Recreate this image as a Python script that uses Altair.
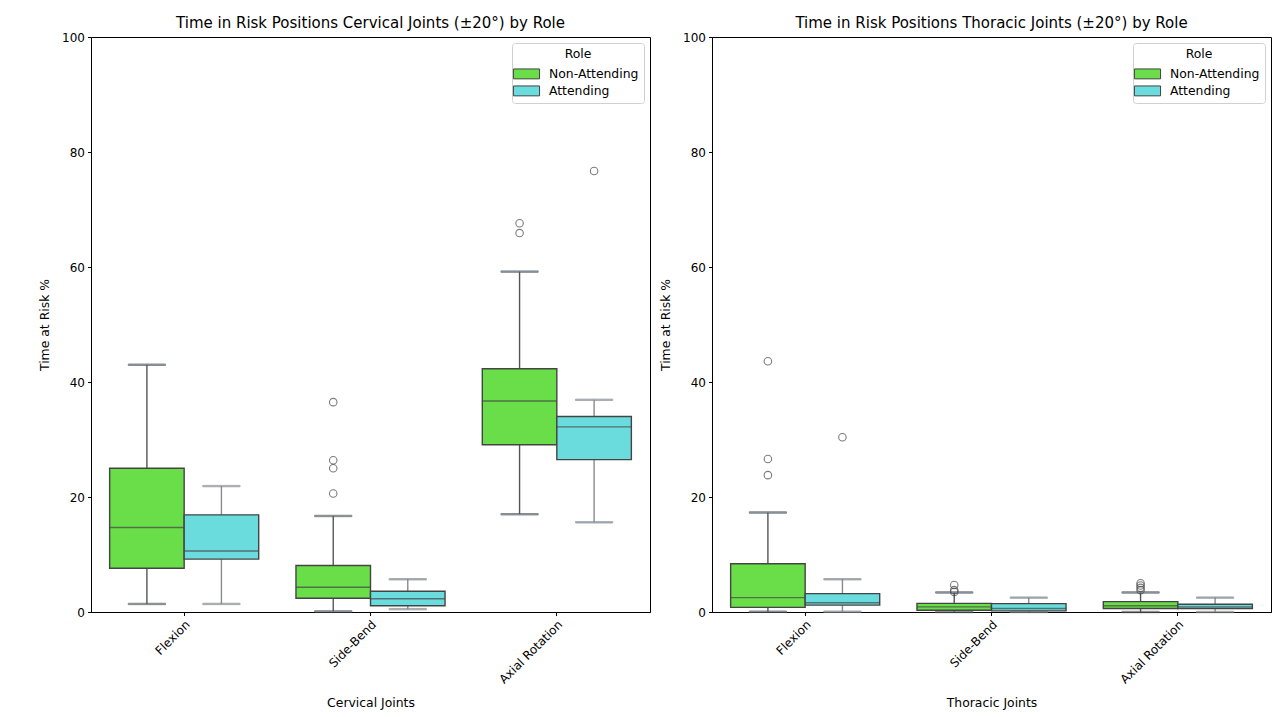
import altair as alt
import pandas as pd

joints = ["Flexion", "Side-Bend", "Axial Rotation"]
roles = ["Non-Attending", "Attending"]
fill_colors = ["#6ade48", "#6adcde"]
whisker_colors = ["#555555", "#8a8a8a"]

# Box statistics per joint, per role: [whisker_low, q1, median, q3, whisker_high]
cerv_non = [[1.4, 7.6, 14.7, 25.0, 43.0],
            [0.1, 2.4, 4.3, 8.1, 16.7],
            [17.0, 29.1, 36.7, 42.3, 59.2]]
cerv_att = [[1.4, 9.2, 10.6, 16.9, 21.9],
            [0.5, 1.1, 2.3, 3.6, 5.7],
            [15.6, 26.5, 32.2, 34.0, 36.9]]
thor_non = [[0.05, 0.8, 2.5, 8.4, 17.3],
            [0.0, 0.3, 0.9, 1.5, 3.4],
            [0.0, 0.6, 1.1, 1.8, 3.4]]
thor_att = [[0.05, 1.2, 1.6, 3.2, 5.7],
            [0.0, 0.2, 0.6, 1.45, 2.5],
            [0.0, 0.6, 0.9, 1.35, 2.5]]

# Outliers: (joint, role, value)
cerv_out_joint = ["Side-Bend", "Side-Bend", "Side-Bend", "Side-Bend",
                  "Axial Rotation", "Axial Rotation", "Axial Rotation"]
cerv_out_role = ["Non-Attending"] * 6 + ["Attending"]
cerv_out_val = [36.5, 26.4, 25.0, 20.6, 67.6, 65.9, 76.7]

thor_out_joint = ["Flexion", "Flexion", "Flexion", "Flexion",
                  "Side-Bend", "Side-Bend", "Side-Bend",
                  "Axial Rotation", "Axial Rotation", "Axial Rotation", "Axial Rotation"]
thor_out_role = ["Non-Attending", "Non-Attending", "Non-Attending", "Attending",
                 "Non-Attending", "Non-Attending", "Non-Attending",
                 "Non-Attending", "Non-Attending", "Non-Attending", "Non-Attending"]
thor_out_val = [43.6, 26.6, 23.8, 30.4,
                4.7, 3.8, 3.5,
                5.0, 4.6, 4.2, 3.8]

FONT = "DejaVu Sans"
W, H = 559, 575
BOX_W = W / 3 * 0.8 / 2


def stats_df(non, att):
    rows = []
    for role, table, lc in zip(roles, [non, att], whisker_colors):
        for j, s in zip(joints, table):
            rows.append(dict(Joint=j, Role=role, lc=lc, low=s[0], q1=s[1], med=s[2], q3=s[3], high=s[4]))
    return pd.DataFrame(rows)


def panel(non, att, oj, orole, oval, title, xtitle):
    df = stats_df(non, att)
    odf = pd.DataFrame(dict(Joint=oj, Role=orole, val=oval))
    x = alt.X("Joint:N", sort=joints, title=xtitle,
              scale=alt.Scale(paddingInner=0.2, paddingOuter=0.1),
              axis=alt.Axis(labelAngle=-45, labelAlign="right", labelBaseline="top",
                            ticks=True, tickSize=3.5, labelPadding=3, titlePadding=11))
    xo = alt.XOffset("Role:N", sort=roles, scale=alt.Scale(domain=roles, paddingInner=0, paddingOuter=0))
    yscale = alt.Scale(domain=[0, 100], nice=False)
    yaxis = alt.Axis(values=[0, 20, 40, 60, 80, 100], tickSize=3.5, labelPadding=3,
                     titlePadding=10, grid=False)
    stroke = alt.Stroke("lc:N", scale=None)
    base = alt.Chart(df)
    lower = base.mark_rule(strokeWidth=1.4).encode(
        x=x, xOffset=xo, y=alt.Y("low:Q", scale=yscale, axis=yaxis, title="Time at Risk %"),
        y2="q1:Q", stroke=stroke)
    upper = base.mark_rule(strokeWidth=1.4).encode(
        x=x, xOffset=xo, y=alt.Y("q3:Q"), y2="high:Q", stroke=stroke)
    cap_lo = base.mark_tick(size=BOX_W / 2, thickness=1.4, orient="horizontal").encode(
        x=x, xOffset=xo, y="low:Q", stroke=stroke)
    cap_hi = base.mark_tick(size=BOX_W / 2, thickness=1.4, orient="horizontal").encode(
        x=x, xOffset=xo, y="high:Q", stroke=stroke)
    box = base.mark_bar(stroke="#444444", strokeWidth=1.4, width=BOX_W).encode(
        x=x, xOffset=xo, y="q1:Q", y2="q3:Q",
        color=alt.Color("Role:N", sort=roles,
                        scale=alt.Scale(domain=roles, range=fill_colors),
                        legend=alt.Legend(title="Role", orient="top-right")))
    med = base.mark_tick(size=BOX_W, thickness=1.4, orient="horizontal", color="#444444").encode(
        x=x, xOffset=xo, y="med:Q")
    outl = alt.Chart(odf).mark_point(shape="circle", filled=False, size=56,
                                      stroke="#444444", strokeWidth=1.1).encode(
        x=x, xOffset=xo, y="val:Q")
    return alt.layer(lower, upper, cap_lo, cap_hi, box, med, outl).properties(
        width=W, height=H,
        title=alt.TitleParams(title, fontSize=15, fontWeight="normal", font=FONT, offset=0))


left = panel(cerv_non, cerv_att, cerv_out_joint, cerv_out_role, cerv_out_val,
             "Time in Risk Positions Cervical Joints (±20°) by Role", "Cervical Joints")
right = panel(thor_non, thor_att, thor_out_joint, thor_out_role, thor_out_val,
              "Time in Risk Positions Thoracic Joints (±20°) by Role", "Thoracic Joints")

chart = alt.hconcat(left, right, spacing=8).resolve_scale(
    color="independent").resolve_legend(color="independent").properties(
    padding={"left": 38, "top": 15, "right": 5, "bottom": 5},
    background="white"
).configure_view(stroke="black", strokeWidth=1).configure_axis(
    domainColor="black", tickColor="black", labelColor="black", titleColor="black",
    labelFont=FONT, titleFont=FONT, labelFontSize=12, titleFontSize=12.4,
    titleFontWeight="normal", domainWidth=1, tickWidth=1
).configure_legend(
    labelFont=FONT, titleFont=FONT, labelFontSize=12.4, titleFontSize=12.4,
    titleFontWeight="normal", titleAnchor="middle", strokeColor="#d0d0d0", fillColor="white",
    cornerRadius=3, padding=5, offset=6, symbolType="M-1.45,-0.55H1.45V0.55H-1.45Z", symbolSize=324,
    symbolStrokeColor="#444444", symbolStrokeWidth=1, labelOffset=13, rowPadding=0,
    titlePadding=4, labelColor="black", titleColor="black"
)

chart.save("out.html", embed_options={"renderer": "svg", "actions": False})
